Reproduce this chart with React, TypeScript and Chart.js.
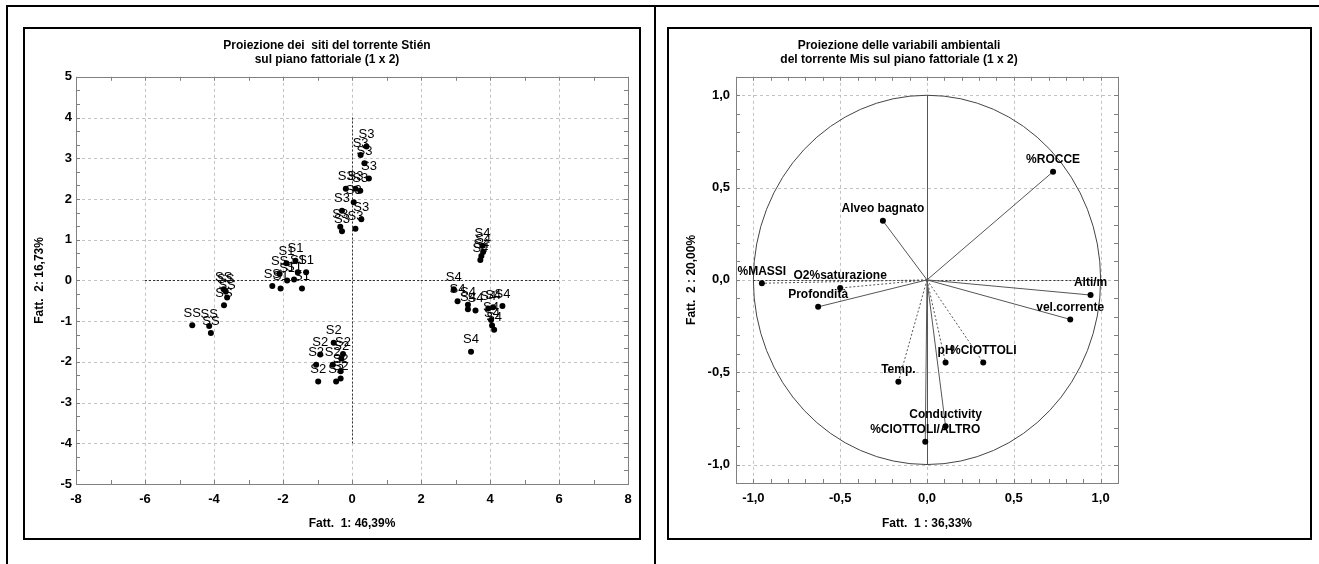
import React, { useEffect, useRef } from 'react';
import { Chart, registerables } from 'chart.js';
Chart.register(...registerables);

const FONT = "'Liberation Sans', Arial, Helvetica, sans-serif";

// ---------------- Left chart data (sites) ----------------
const SITE_LABELS = [
  'SS', 'SS', 'SS',
  'SS', 'SS', 'SS', 'SS',
  'SS', 'S1', 'S1', 'S1', 'S1', 'S1', 'S1', 'S1', 'S1', 'SS',
  'S3', 'S3', 'S3', 'S3', 'S3', 'S3', 'S3', 'S3', 'S3', 'S3', 'S3', 'S3', 'S3',
  'S2', 'S2', 'S2', 'S2', 'S2', 'S2', 'S2', 'S2', 'S2', 'S2',
  'S4', 'S4', 'S4', 'S4',
  'S4', 'S4', 'S4', 'S4', 'S4', 'S4', 'S4', 'S4', 'S4', 'S4', 'S4', 'S4',
];
const SITE_F1 = [
  -4.63, -4.14, -4.09,
  -3.72, -3.66, -3.62, -3.71,
  -2.31, -2.07, -1.45, -1.88, -1.68, -1.57, -1.64, -1.33, -1.9, -2.1,
  0.42, 0.25, 0.36, 0.49, -0.18, 0.1, 0.24, 0.05, -0.29, 0.27, -0.34, -0.29, 0.1,
  -0.53, -0.26, -0.92, -1.04, -0.56, -0.31, -0.33, -0.98, -0.46, -0.33,
  3.78, 3.8, 3.75, 3.72,
  2.95, 3.06, 3.36, 3.58, 3.36, 4.09, 4.36, 4.06, 4.12, 4.03, 3.45, 3.95,
];
const SITE_F2 = [
  -1.1, -1.12, -1.29,
  -0.22, -0.27, -0.42, -0.61,
  -0.14, -0.2, -0.2, 0.0, 0.02, 0.2, 0.48, 0.2, 0.42, 0.16,
  3.29, 3.08, 2.88, 2.5, 2.25, 2.25, 2.2, 1.92, 1.71, 1.5, 1.32, 1.21, 1.27,
  -1.53, -1.81, -1.82, -2.07, -2.07, -1.92, -2.23, -2.48, -2.48, -2.41,
  0.85, 0.7, 0.6, 0.5,
  -0.22, -0.51, -0.6, -0.74, -0.71, -0.66, -0.63, -1.11, -1.21, -0.97, -1.75, -0.69,
];
const LEFT_X_TICKS = [-8, -6, -4, -2, 0, 2, 4, 6, 8];
const LEFT_Y_TICKS = [5, 4, 3, 2, 1, 0, -1, -2, -3, -4, -5];
const LEFT_GRID_X = [-6, -4, -2, 0, 2, 4, 6];
const LEFT_GRID_Y = [-4, -3, -2, -1, 0, 1, 2, 3, 4];
const LEFT_TITLE = ['Proiezione dei  siti del torrente Stién', 'sul piano fattoriale (1 x 2)'];
const LEFT_X_TITLE = 'Fatt.  1: 46,39%';
const LEFT_Y_TITLE = 'Fatt.  2: 16,73%';

// ---------------- Right chart data (variables) ----------------
const VAR_NAMES = [
  '%ROCCE', 'Alveo bagnato', '%MASSI', 'O2%saturazione', 'Profondità', 'Alti/m',
  'vel.corrente', 'pH', '%CIOTTOLI', 'Temp.', 'Conductivity', '%CIOTTOLI/ALTRO',
];
const VAR_F1 = [0.726, -0.254, -0.951, -0.5, -0.627, 0.942, 0.825, 0.107, 0.324, -0.165, 0.107, -0.01];
const VAR_F2 = [0.586, 0.32, -0.018, -0.044, -0.146, -0.082, -0.214, -0.448, -0.448, -0.552, -0.793, -0.876];
const RIGHT_TICKS = [-1, -0.5, 0, 0.5, 1];
const RIGHT_TITLE = ['Proiezione delle variabili ambientali', 'del torrente Mis sul piano fattoriale (1 x 2)'];
const RIGHT_X_TITLE = 'Fatt.  1 : 36,33%';
const RIGHT_Y_TITLE = 'Fatt.  2 : 20,00%';

// ---------------- styles ----------------
const DASHED_VECTORS = new Set(['%MASSI', 'O2%saturazione', 'Temp.', 'pH', '%CIOTTOLI']);
const GRID_COLOR = '#c2c2c2';
const FRAME_COLOR = '#808080';
const LEFT_LABEL_FONT = `13px ${FONT}`;
const RIGHT_LABEL_FONT = `bold 12px ${FONT}`;

function line(ctx: CanvasRenderingContext2D, x1: number, y1: number, x2: number, y2: number) {
  ctx.beginPath();
  ctx.moveTo(x1, y1);
  ctx.lineTo(x2, y2);
  ctx.stroke();
}
const cr = (v: number) => Math.round(v) + 0.5;

function makeAxis(o: any) {
  const horiz = o.position === 'bottom';
  return {
    type: 'linear',
    position: o.position,
    min: o.min,
    max: o.max,
    afterBuildTicks: (s: any) => {
      s.ticks = o.ticks.map((v: number) => ({ value: v }));
    },
    afterFit: (s: any) => {
      if (horiz) s.height = o.size;
      else s.width = o.size;
      s.paddingLeft = 0;
      s.paddingRight = 0;
      s.paddingTop = 0;
      s.paddingBottom = 0;
    },
    grid: { display: false, drawTicks: false },
    border: { display: false },
    ticks: {
      autoSkip: false,
      maxRotation: 0,
      minRotation: 0,
      padding: o.tickPad,
      color: '#000',
      font: { family: FONT, size: 13, weight: 'bold' },
      callback: o.fmt,
    },
    title: {
      display: true,
      text: o.title,
      color: '#000',
      font: { family: FONT, size: 12, weight: 'bold' },
      padding: o.titlePad,
    },
  };
}

function decoPlugin(cfg: any) {
  return {
    id: 'deco_' + cfg.key,
    beforeDatasetsDraw(chart: any) {
      const { ctx, chartArea: a } = chart;
      const xs = chart.scales.x;
      const ys = chart.scales.y;
      ctx.save();
      ctx.lineWidth = 1;
      ctx.strokeStyle = GRID_COLOR;
      ctx.setLineDash([3, 3]);
      for (const v of cfg.gridX) {
        const p = cr(xs.getPixelForValue(v));
        line(ctx, p, a.top, p, a.bottom);
      }
      for (const v of cfg.gridY) {
        const p = cr(ys.getPixelForValue(v));
        line(ctx, a.left, p, a.right, p);
      }
      ctx.setLineDash([]);
      ctx.strokeStyle = FRAME_COLOR;
      ctx.strokeRect(cr(a.left), cr(a.top), Math.round(a.right - a.left), Math.round(a.bottom - a.top));
      const tl = 4;
      const nx = Math.round((cfg.xMax - cfg.xMin) / cfg.xStep);
      for (let i = 0; i <= nx; i++) {
        const p = cr(xs.getPixelForValue(cfg.xMin + i * cfg.xStep));
        line(ctx, p, a.bottom, p, a.bottom - tl);
        line(ctx, p, a.top, p, a.top + tl);
      }
      const ny = Math.round((cfg.yMax - cfg.yMin) / cfg.yStep);
      for (let i = 0; i <= ny; i++) {
        const p = cr(ys.getPixelForValue(cfg.yMin + i * cfg.yStep));
        line(ctx, a.left, p, a.left + tl, p);
        line(ctx, a.right, p, a.right - tl, p);
      }
      if (cfg.extra) cfg.extra(ctx, a, xs, ys);
      ctx.restore();
    },
    afterDatasetsDraw(chart: any) {
      const { ctx } = chart;
      const meta = chart.getDatasetMeta(cfg.labelDataset);
      ctx.save();
      ctx.fillStyle = '#000';
      ctx.font = cfg.labelFont;
      ctx.textAlign = 'center';
      ctx.textBaseline = 'middle';
      meta.data.forEach((el: any, i: number) => {
        ctx.fillText(cfg.labels[i], el.x, el.y - 12);
      });
      ctx.restore();
    },
  };
}

function leftConfig(): any {
  const pts = SITE_F1.map((x, i) => ({ x, y: SITE_F2[i] }));
  return {
    type: 'scatter',
    data: {
      datasets: [
        {
          data: pts,
          pointRadius: 3,
          pointBackgroundColor: '#000',
          pointBorderColor: '#000',
          pointBorderWidth: 0,
        },
      ],
    },
    options: {
      animation: false,
      responsive: false,
      layout: { padding: { left: 0, right: 10, top: 0, bottom: 0 } },
      plugins: {
        legend: { display: false },
        tooltip: { enabled: false },
        title: {
          display: true,
          text: LEFT_TITLE,
          color: '#000',
          font: { family: FONT, size: 12, weight: 'bold', lineHeight: 1.2 },
          padding: { top: 8, bottom: 10 },
        },
      },
      scales: {
        x: makeAxis({
          position: 'bottom', min: -8, max: 8, ticks: LEFT_X_TICKS, size: 54, tickPad: 8,
          fmt: (v: number) => String(v), title: LEFT_X_TITLE, titlePad: { top: 0, bottom: 7 },
        }),
        y: makeAxis({
          position: 'left', min: -5, max: 5, ticks: LEFT_Y_TICKS, size: 50, tickPad: 4,
          fmt: (v: number) => String(v), title: LEFT_Y_TITLE, titlePad: { top: 6, bottom: 0 },
        }),
      },
    },
    plugins: [
      decoPlugin({
        key: 'left', gridX: LEFT_GRID_X, gridY: LEFT_GRID_Y,
        xMin: -8, xMax: 8, xStep: 1, yMin: -5, yMax: 5, yStep: 1 / 3,
        labelDataset: 0, labels: SITE_LABELS, labelFont: LEFT_LABEL_FONT,
        extra: (ctx: CanvasRenderingContext2D, a: any, xs: any, ys: any) => {
          ctx.strokeStyle = '#333';
          ctx.setLineDash([2, 2]);
          const y0 = cr(ys.getPixelForValue(0));
          line(ctx, xs.getPixelForValue(-6), y0, xs.getPixelForValue(6), y0);
          const x0 = cr(xs.getPixelForValue(0));
          line(ctx, x0, ys.getPixelForValue(4), x0, ys.getPixelForValue(-4));
          ctx.setLineDash([]);
        },
      }),
    ],
  };
}

function rightConfig(): any {
  const vectors = VAR_NAMES.map((name, i) => ({
    data: [{ x: 0, y: 0 }, { x: VAR_F1[i], y: VAR_F2[i] }],
    showLine: true,
    pointRadius: 0,
    borderColor: '#555',
    borderWidth: 1,
    borderDash: DASHED_VECTORS.has(name) ? [2, 2] : [],
  }));
  const pts = VAR_F1.map((x, i) => ({ x, y: VAR_F2[i] }));
  return {
    type: 'scatter',
    data: {
      datasets: [
        {
          data: pts,
          pointRadius: 3,
          pointBackgroundColor: '#000',
          pointBorderColor: '#000',
          pointBorderWidth: 0,
        },
        ...vectors,
      ],
    },
    options: {
      animation: false,
      responsive: false,
      layout: { padding: { left: 10, right: 191, top: 0, bottom: 0 } },
      plugins: {
        legend: { display: false },
        tooltip: { enabled: false },
        title: {
          display: true,
          text: RIGHT_TITLE,
          color: '#000',
          font: { family: FONT, size: 12, weight: 'bold', lineHeight: 1.2 },
          padding: { top: 8, bottom: 10 },
        },
      },
      scales: {
        x: makeAxis({
          position: 'bottom', min: -1.1, max: 1.1, ticks: RIGHT_TICKS, size: 55, tickPad: 8,
          fmt: (v: number) => v.toFixed(1).replace('.', ','), title: RIGHT_X_TITLE, titlePad: { top: 0, bottom: 7 },
        }),
        y: makeAxis({
          position: 'left', min: -1.1, max: 1.1, ticks: RIGHT_TICKS, size: 56, tickPad: 6,
          fmt: (v: number) => v.toFixed(1).replace('.', ','), title: RIGHT_Y_TITLE, titlePad: { top: 4, bottom: 0 },
        }),
      },
    },
    plugins: [
      decoPlugin({
        key: 'right', gridX: RIGHT_TICKS, gridY: RIGHT_TICKS,
        xMin: -1.1, xMax: 1.1, xStep: 0.1, yMin: -1.1, yMax: 1.1, yStep: 0.1,
        labelDataset: 0, labels: VAR_NAMES, labelFont: RIGHT_LABEL_FONT,
        extra: (ctx: CanvasRenderingContext2D, a: any, xs: any, ys: any) => {
          const cx = xs.getPixelForValue(0);
          const cy = ys.getPixelForValue(0);
          const rx = xs.getPixelForValue(1) - cx;
          const ry = cy - ys.getPixelForValue(1);
          ctx.setLineDash([]);
          ctx.strokeStyle = '#444';
          ctx.beginPath();
          ctx.ellipse(cx, cy, rx, ry, 0, 0, Math.PI * 2);
          ctx.stroke();
          ctx.strokeStyle = '#555';
          line(ctx, cr(cx), ys.getPixelForValue(1), cr(cx), ys.getPixelForValue(-1));
          ctx.strokeStyle = '#333';
          ctx.setLineDash([2, 2]);
          line(ctx, xs.getPixelForValue(-1), cr(cy), xs.getPixelForValue(1), cr(cy));
          ctx.setLineDash([]);
        },
      }),
    ],
  };
}

export default function App() {
  const lRef = useRef<HTMLCanvasElement>(null);
  const rRef = useRef<HTMLCanvasElement>(null);
  useEffect(() => {
    Chart.defaults.font.family = FONT;
    const l = new Chart(lRef.current as HTMLCanvasElement, leftConfig());
    const r = new Chart(rRef.current as HTMLCanvasElement, rightConfig());
    return () => {
      l.destroy();
      r.destroy();
    };
  }, []);
  const abs = (s: any) => ({ position: 'absolute' as const, ...s });
  return (
    <div style={abs({ left: 0, top: 0, width: 1319, height: 564, background: '#fff', overflow: 'hidden' })}>
      <div style={abs({ left: 6, top: 5, width: 1313, height: 2, background: '#000' })} />
      <div style={abs({ left: 6, top: 5, width: 2, height: 559, background: '#000' })} />
      <div style={abs({ left: 654, top: 5, width: 2, height: 559, background: '#000' })} />
      <div style={abs({ left: 23, top: 27, width: 618, height: 513, border: '2px solid #000', boxSizing: 'border-box' })} />
      <div style={abs({ left: 667, top: 27, width: 645, height: 513, border: '2px solid #000', boxSizing: 'border-box' })} />
      <canvas ref={lRef} width={612} height={508} style={abs({ left: 26, top: 30, width: 612, height: 508 })} />
      <canvas ref={rRef} width={639} height={508} style={abs({ left: 670, top: 30, width: 639, height: 508 })} />
    </div>
  );
}
